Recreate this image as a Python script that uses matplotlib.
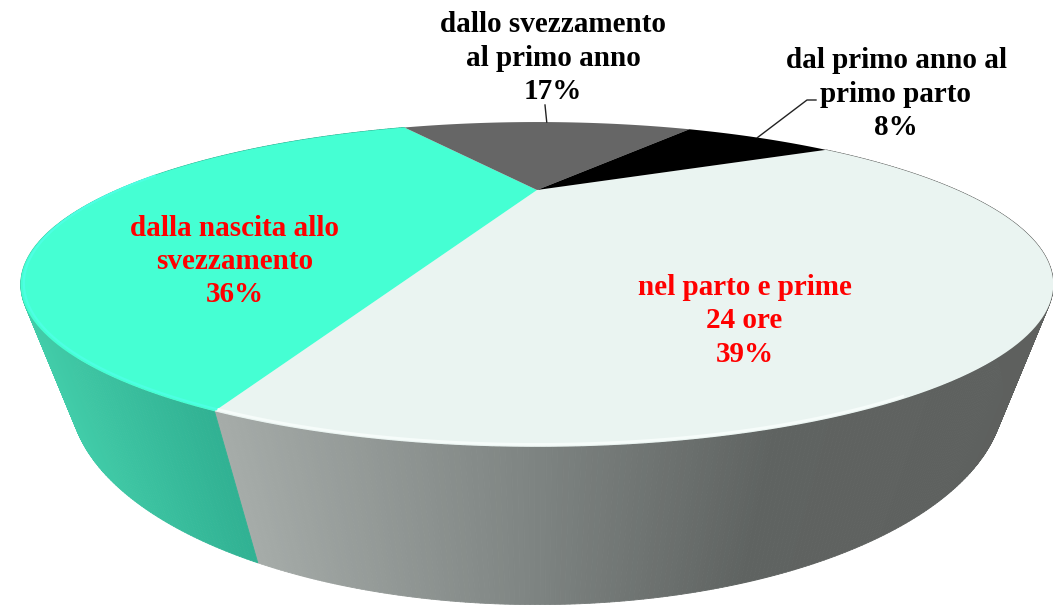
import numpy as np
import matplotlib
matplotlib.use("Agg")
import matplotlib.pyplot as plt
from matplotlib.collections import PolyCollection
from matplotlib.path import Path
from matplotlib.transforms import Transform, Affine2D

values = [38.6, 36.4, 17, 8]
labels = ["nel parto e prime\n24 ore\n39%",
          "dalla nascita allo\nsvezzamento\n36%",
          "dallo svezzamento\nal primo anno\n17%",
          "dal primo anno al\nprimo parto\n8%"]
top_colors = ["#EAF4F1", "#45FFD3", "#666666", "#000000"]
label_colors = ["#FF0000", "#FF0000", "#000000", "#000000"]
label_xy = [(744.5, 321), (235, 261.5), (553, 58), (896, 94)]
leader_ends = [None, None, [(545, 105)], [(807, 100), (816, 100)]]
wall_stops = {0: ([215, 533, 760, 1050], ["#A9AFAC", "#7E8482", "#5F6361", "#5E605E"]),
              1: ([20, 90, 210, 260], ["#45D2AE", "#3FC8A5", "#33B596", "#2FAE90"])}

CX, CY, KP, AX, VY = 537.0, 190.0, 0.5815, 420.0, 1540.0


class Frustum(Transform):
    """Unit-circle pie plane -> picture, perspective; lam > 0 gives the lower plane."""
    input_dims = output_dims = 2
    is_separable = False
    has_inverse = False

    def __init__(self, lam=0.0):
        super().__init__()
        self.lam = lam

    def transform_non_affine(self, v):
        v = np.asarray(v, float)
        X, Y = v[:, 0], v[:, 1]
        w = 1 + KP * Y
        xh = CX * w + AX * X + self.lam * CX
        yh = CY + 3 * Y + self.lam * VY
        return np.column_stack([xh / (w + self.lam), yh / (w + self.lam)])

    def transform_path_non_affine(self, path):
        poly = path.to_polygons(Affine2D().scale(2000), closed_only=True)[0] / 2000
        return Path(self.transform_non_affine(poly), closed=True)


top = Frustum(0.0)
bottom = Frustum(0.0706)


def arc(t1, t2, n):
    t = np.radians(np.linspace(t1, t2, n))
    return np.column_stack([np.cos(t), np.sin(t)])


def hex2rgb(h):
    return np.array(matplotlib.colors.to_rgb(h))


plt.rcParams["font.family"] = ["Liberation Serif", "DejaVu Serif"]
fig = plt.figure(figsize=(10.53, 6.05), dpi=100, facecolor="white")
ax = fig.add_axes([0, 0, 1, 1])
wedges, _ = ax.pie(values, colors=top_colors, startangle=28.5, counterclock=False,
                   radius=1, center=(0, 0), wedgeprops=dict(linewidth=0))
ax.set_aspect("auto")
ax.set_xlim(0, 1053)
ax.set_ylim(605, 0)
ax.axis("off")

# side wall: thin strips under each front wedge
for i, (xs, cs) in wall_stops.items():
    wd = wedges[i]
    n = int((wd.theta2 - wd.theta1) * 3) + 2
    ring = arc(wd.theta1, wd.theta2, n)
    a, b = top.transform(ring), bottom.transform(ring)
    quads = [[a[j], a[j + 1], b[j + 1], b[j]] for j in range(n - 1)]
    rgb = np.array([hex2rgb(c) for c in cs])
    mid = (a[:-1, 0] + a[1:, 0] + b[:-1, 0] + b[1:, 0]) / 4
    col = np.column_stack([np.interp(mid, xs, rgb[:, k]) for k in range(3)])
    ax.add_collection(PolyCollection(quads, facecolors=col, edgecolors=col,
                                     linewidths=0.6, zorder=1))

# top surface
for wd in wedges:
    wd.set_transform(top + ax.transData)
    wd.set_zorder(2)
    wd.set_clip_on(False)

# bevel highlight on the front rim
d = wedges[0].theta1
rim = top.transform(arc(d, d + 45, 60) * 0.996)
ax.plot(*rim.T, color="#F6FCFA", lw=2.0, zorder=3, solid_capstyle="butt")
g = wedges[1].theta2
rim = top.transform(arc(g - 78, g, 80) * 0.996)
ax.plot(*rim.T, color="#4DFFE2", lw=1.6, zorder=3, solid_capstyle="butt")

# labels and leader lines
for wd, lab, col, xy, ends in zip(wedges, labels, label_colors, label_xy, leader_ends):
    ax.text(xy[0], xy[1], lab, color=col, fontsize=21, fontweight="bold",
            ha="center", va="center", linespacing=1.29, zorder=5)
    if ends:
        m = np.radians((wd.theta1 + wd.theta2) / 2)
        start = top.transform(np.array([[np.cos(m), np.sin(m)]]))
        pts = np.vstack([start, ends])
        ax.plot(pts[:, 0], pts[:, 1], color="#222222", lw=1.0, zorder=4)

fig.savefig("out.png", dpi=100, facecolor="white")
